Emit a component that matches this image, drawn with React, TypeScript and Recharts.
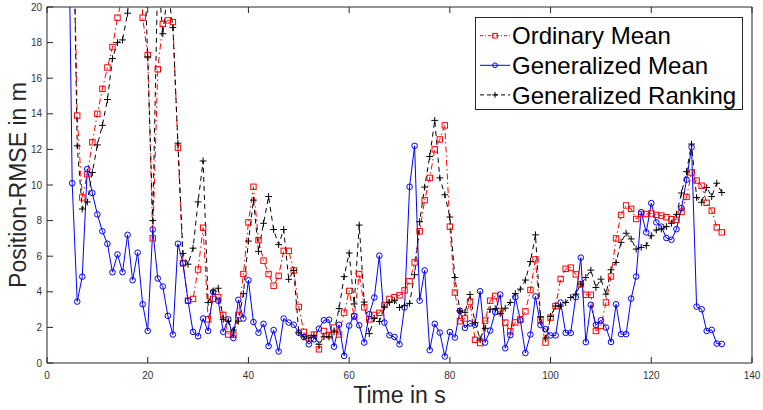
import React from 'react';
import { LineChart, Line, XAxis, YAxis, Legend } from 'recharts';

// sample times (s), one sample per second
const TIME = [
  4, 5, 6, 7, 8, 9, 10, 11, 12, 13,
  14, 15, 16, 17, 18, 19, 20, 21, 22, 23,
  24, 25, 26, 27, 28, 29, 30, 31, 32, 33,
  34, 35, 36, 37, 38, 39, 40, 41, 42, 43,
  44, 45, 46, 47, 48, 49, 50, 51, 52, 53,
  54, 55, 56, 57, 58, 59, 60, 61, 62, 63,
  64, 65, 66, 67, 68, 69, 70, 71, 72, 73,
  74, 75, 76, 77, 78, 79, 80, 81, 82, 83,
  84, 85, 86, 87, 88, 89, 90, 91, 92, 93,
  94, 95, 96, 97, 98, 99, 100, 101, 102, 103,
  104, 105, 106, 107, 108, 109, 110, 111, 112, 113,
  114, 115, 116, 117, 118, 119, 120, 121, 122, 123,
  124, 125, 126, 127, 128, 129, 130, 131, 132, 133,
  134,
];

const ORDINARY_MEAN = [
  null, 29, 13.9, 9.3, 10.6, 12.4, 14.0, 15.4, 16.6, 17.75,
  19.4, 20.6, 23, 26, 30, 19.4, 17.3, 7.0, 16.5, 19.05,
  19.25, 19.15, 12.1, 5.6, 3.5, 3.6, 5.25, 7.6, 2.45, 3.6,
  3.7, 2.7, 1.6, 1.6, 2.7, 5.0, 7.9, 9.9, 6.9, 5.75,
  5.0, 4.34, 4.9, 6.3, 6.3, 5.2, 3.15, 1.75, 1.4, 1.6,
  0.77, 1.8, 1.56, 1.99, 1.6, 2.83, 4.05, 2.6, 5.0, 3.13,
  2.45, 2.7, 2.82, 3.26, 3.6, 3.7, 3.8, 4.08, 4.6, 5.65,
  7.4, 9.15, 10.4, 12.0, 12.56, 13.35, 7.66, 3.96, 2.35, 2.5,
  3.45, 1.3, 1.12, 2.38, 3.5, 3.77, 2.9, 2.27, 1.78, 2.28,
  2.45, 2.9, 4.1, 5.82, 2.4, 1.15, 2.55, 3.2, 4.72, 5.29,
  5.36, 4.98, 4.43, 3.83, 3.83, 1.8, 2.08, 3.4, 4.86, 7.0,
  8.32, 8.85, 8.66, 8.09, 8.37, 8.37, 8.4, 8.32, 8.28, 8.19,
  8.08, 8.05, 8.5, 9.33, 10.7, 10.25, 9.96, 9.0, 8.56, 7.62,
  7.34,
];

const GENERALIZED_MEAN = [
  32, 10.1, 3.45, 4.85, 10.9, 9.55, 8.35, 7.4, 6.7, 5.1,
  6.1, 5.1, 7.2, 4.65, 6.2, 3.3, 1.8, 7.5, 4.75, 4.3,
  2.65, 1.6, 6.7, 5.6, 3.5, 1.75, 1.5, 2.5, 1.8, 4.0,
  3.5, 1.75, 2.45, 1.4, 3.55, 2.5, 4.65, 2.3, 1.7, 2.2,
  0.95, 1.85, 0.65, 2.5, 2.27, 2.15, 1.7, 1.46, 1.05, 1.33,
  1.93, 2.4, 2.43, 0.92, 2.15, 0.4, 2.1, 2.65, 2.12, 1.15,
  2.74, 3.68, 6.03, 2.27, 1.56, 1.46, 1.05, 3.12, 9.9, 12.2,
  3.5, 5.2, 0.72, 2.2, 1.71, 0.37, 1.74, 1.43, 2.93, 1.97,
  2.22, 2.15, 4.03, 1.15, 1.82, 2.86, 3.85, 0.83, 1.56, 3.7,
  2.4, 0.56, 1.6, 3.74, 2.13, 1.9, 1.55, 1.55, 3.4, 1.69,
  1.69, 3.7, 5.92, 1.17, 3.27, 2.14, 2.4, 1.99, 1.18, 3.3,
  1.62, 1.62, 3.62, 4.86, 8.47, 7.34, 8.98, 7.9, 7.66, 7.02,
  6.92, 7.52, 8.7, 10.3, 12.12, 3.17, 3.02, 1.8, 1.86, 1.09,
  1.07,
];

const GENERALIZED_RANKING = [
  null, 29, 12.2, 8.65, 9.05, 10.7, 12.25, 13.35, 14.8, 17.1,
  18.0, 18.15, 19.65, 23.2, 26, 25, 17.2, 8.0, 22, 18.5,
  21, 18.85, 12.35, 6.15, 5.55, 6.45, 9.05, 11.35, 3.4, 4.05,
  4.2, 2.45, 2.35, 1.85, 2.35, 3.9, 6.85, 9.15, 6.27, 7.85,
  9.35, 7.5, 6.65, 7.5, 4.7, 5.2, 1.7, 1.47, 1.4, 1.55,
  1.05, 1.47, 1.47, 1.75, 3.06, 4.85, 6.18, 3.32, 7.75, 3.42,
  1.65, 2.5, 2.33, 3.15, 3.4, 3.5, 3.12, 3.22, 3.35, 4.96,
  7.94, 9.88, 11.6, 13.63, 10.4, 9.45, 8.2, 4.8, 2.93, 2.85,
  3.85, 2.27, 1.35, 1.95, 3.02, 3.05, 2.78, 3.08, 3.4, 3.9,
  4.15, 4.66, 5.7, 7.2, 2.6, 1.4, 2.62, 3.2, 3.2, 3.4,
  3.68, 3.87, 4.43, 4.8, 5.22, 4.24, 4.71, 3.87, 5.24, 5.65,
  6.78, 7.29, 6.97, 6.4, 6.5, 6.6, 7.15, 7.47, 7.53, 7.66,
  7.85, 8.35, 9.55, 10.75, 12.3, 9.3, 9.03, 9.86, 9.35, 10.1,
  9.58,
];

const X_TICKS = [0, 20, 40, 60, 80, 100, 120, 140];
const Y_TICKS = [0, 2, 4, 6, 8, 10, 12, 14, 16, 18, 20];

const SERIES = [
  { key: 'om', label: 'Ordinary Mean', color: '#ff0000', dash: '6 3 1.5 3', legendDash: '3 2 1 2', marker: 'square' },
  { key: 'gm', label: 'Generalized Mean', color: '#0000ff', dash: undefined, legendDash: undefined, marker: 'circle' },
  { key: 'gr', label: 'Generalized Ranking', color: '#000000', dash: '5 4', legendDash: '4 3', marker: 'plus' },
];

const data = TIME.map((t, i) => ({
  t,
  om: ORDINARY_MEAN[i],
  gm: GENERALIZED_MEAN[i],
  gr: GENERALIZED_RANKING[i],
}));

const FONT = '"Liberation Sans", Arial, Helvetica, sans-serif';
const AXIS = '#262626';
const TICK_LEN = 6;

function Marker({ kind, cx, cy, color, size = 1 }: any) {
  if (kind === 'square') {
    const h = 2.7 * size;
    return <rect x={cx - h} y={cy - h} width={2 * h} height={2 * h} fill="none" stroke={color} strokeWidth={1} />;
  }
  if (kind === 'circle') {
    return <circle cx={cx} cy={cy} r={2.8 * size} fill="none" stroke={color} strokeWidth={1} />;
  }
  const h = 3.4 * size;
  return (
    <g stroke={color} strokeWidth={1}>
      <line x1={cx - h} y1={cy} x2={cx + h} y2={cy} />
      <line x1={cx} y1={cy - h} x2={cx} y2={cy + h} />
    </g>
  );
}

const makeDot = (kind: string, color: string) => (props: any) => {
  const { cx, cy, index } = props;
  if (cx == null || cy == null || props.value == null) return <g key={`d-${kind}-${index}`} />;
  return (
    <g key={`d-${kind}-${index}`}>
      <Marker kind={kind} cx={cx} cy={cy} color={color} />
    </g>
  );
};

function BottomTick({ x, y, payload }: any) {
  return (
    <g>
      <line x1={x} y1={y} x2={x} y2={y - TICK_LEN} stroke={AXIS} strokeWidth={1} />
      <text x={x} y={y + 16} textAnchor="middle" fontSize={10} fill="#333" fontFamily={FONT}>
        {payload.value}
      </text>
    </g>
  );
}

function TopTick({ x, y }: any) {
  return <line x1={x} y1={y} x2={x} y2={y + TICK_LEN} stroke={AXIS} strokeWidth={1} />;
}

function LeftTick({ x, y, payload }: any) {
  return (
    <g>
      <line x1={x} y1={y} x2={x + TICK_LEN} y2={y} stroke={AXIS} strokeWidth={1} />
      <text x={x - 5} y={y} dy="0.35em" textAnchor="end" fontSize={10} fill="#333" fontFamily={FONT}>
        {payload.value}
      </text>
    </g>
  );
}

function RightTick({ x, y }: any) {
  return <line x1={x} y1={y} x2={x - TICK_LEN} y2={y} stroke={AXIS} strokeWidth={1} />;
}

function LegendBox() {
  return (
    <svg width={268} height={93} style={{ display: 'block' }}>
      <rect x={0.5} y={0.5} width={267} height={92} fill="#fff" stroke={AXIS} strokeWidth={1} />
      {SERIES.map((s, i) => {
        const cy = 18.7 + i * 29.6;
        return (
          <g key={s.key}>
            <line x1={5} y1={cy} x2={35} y2={cy} stroke={s.color} strokeWidth={1} strokeDasharray={s.legendDash} />
            <Marker kind={s.marker} cx={20} cy={cy} color={s.color} size={0.85} />
            <text x={37} y={cy + 8.6} fontSize={24} fill="#000" fontFamily={FONT}>
              {s.label}
            </text>
          </g>
        );
      })}
    </svg>
  );
}

export default function App() {
  return (
    <div style={{ position: 'absolute', left: 0, top: 0, width: 763, height: 410, background: '#fff' }}>
      <LineChart width={763} height={410} data={data} margin={{ top: 0, right: 0, bottom: 0, left: 0 }}>
        <XAxis
          xAxisId={0}
          dataKey="t"
          type="number"
          domain={[0, 140]}
          ticks={X_TICKS}
          interval={0}
          height={47}
          tickSize={0}
          tickMargin={0}
          tick={BottomTick}
          axisLine={{ stroke: AXIS, strokeWidth: 1 }}
          label={{ value: 'Time in s', position: 'insideBottom', offset: 7, fontSize: 23, fill: '#262626', fontFamily: FONT }}
        />
        <XAxis
          xAxisId="top"
          orientation="top"
          dataKey="t"
          type="number"
          domain={[0, 140]}
          ticks={X_TICKS}
          interval={0}
          height={7}
          tickSize={0}
          tickMargin={0}
          tick={TopTick}
          axisLine={{ stroke: AXIS, strokeWidth: 1 }}
        />
        <YAxis
          yAxisId={0}
          type="number"
          domain={[0, 20]}
          allowDataOverflow
          ticks={Y_TICKS}
          interval={0}
          width={47}
          tickSize={0}
          tickMargin={0}
          tick={LeftTick}
          axisLine={{ stroke: AXIS, strokeWidth: 1 }}
          label={{
            value: 'Position-RMSE in m',
            angle: -90,
            position: 'insideLeft',
            offset: 18,
            fontSize: 23,
            fill: '#262626',
            fontFamily: FONT,
            style: { textAnchor: 'middle' },
          }}
        />
        <YAxis
          yAxisId="right"
          orientation="right"
          type="number"
          domain={[0, 20]}
          ticks={Y_TICKS}
          interval={0}
          width={11}
          tickSize={0}
          tickMargin={0}
          tick={RightTick}
          axisLine={{ stroke: AXIS, strokeWidth: 1 }}
        />
        {SERIES.map((s) => (
          <Line
            key={s.key}
            xAxisId={0}
            yAxisId={0}
            type="linear"
            dataKey={s.key}
            name={s.label}
            stroke={s.color}
            strokeWidth={1}
            strokeDasharray={s.dash}
            dot={makeDot(s.marker, s.color)}
            activeDot={false}
            isAnimationActive={false}
          />
        ))}
        <Legend
          layout="vertical"
          align="center"
          verticalAlign="middle"
          content={LegendBox}
          wrapperStyle={{ position: 'absolute', left: 475, top: 17, width: 268, height: 93 }}
        />
      </LineChart>
    </div>
  );
}
